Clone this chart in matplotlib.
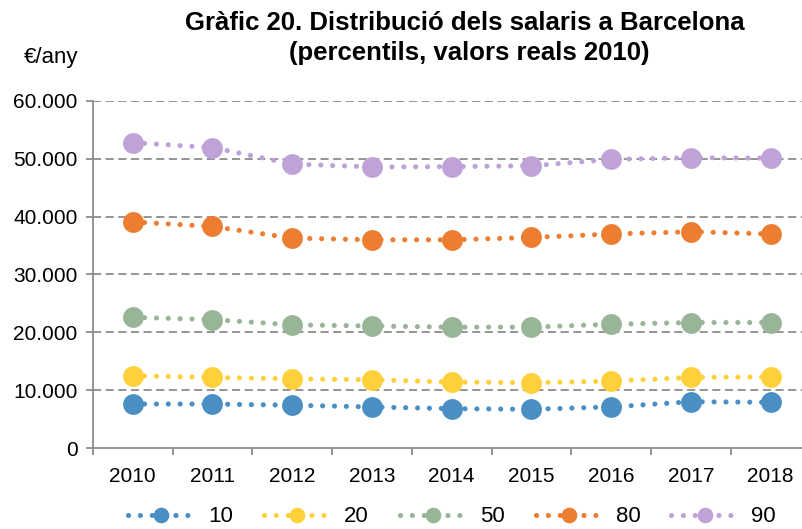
import numpy as np
import matplotlib
matplotlib.use("Agg")
import matplotlib.pyplot as plt
from matplotlib.ticker import FuncFormatter

plt.rcParams['font.family'] = ['Liberation Sans', 'DejaVu Sans']

years = ["2010", "2011", "2012", "2013", "2014", "2015", "2016", "2017", "2018"]
p10 = [7600, 7600, 7400, 7100, 6800, 6700, 7100, 8000, 7900]
p20 = [12500, 12200, 11950, 11800, 11400, 11300, 11550, 12200, 12300]
p50 = [22600, 22200, 21300, 21100, 20900, 20900, 21400, 21700, 21700]
p80 = [39100, 38300, 36300, 36000, 36000, 36400, 37000, 37400, 37000]
p90 = [52800, 51950, 49100, 48600, 48650, 48800, 49900, 50200, 50100]

series_labels = ["10", "20", "50", "80", "90"]
series_values = [p10, p20, p50, p80, p90]
series_colors = ["#4A8FC4", "#FFD03A", "#98B697", "#ED7D31", "#BFA3D8"]

fig = plt.figure(figsize=(8.03, 5.29), dpi=100)
ax = fig.add_axes([92.8 / 803, 1 - 448 / 529, (810.6 - 92.8) / 803, (448 - 101) / 529])

x = np.arange(len(years))
for vals, lab, col in zip(series_values, series_labels, series_colors):
    ax.plot(x, vals, color=col, lw=3.7, linestyle=(0, (0.01, 2.3)),
            dash_capstyle="round", marker="o", markersize=15,
            markeredgewidth=0, label=lab, zorder=3)

ax.set_xlim(-0.5, len(years) - 0.5)
ax.set_ylim(0, 60000)
ax.set_yticks(np.arange(0, 60001, 10000))
ax.yaxis.set_major_formatter(FuncFormatter(lambda v, p: f"{int(v):,}".replace(",", ".")))
ax.set_xticks(x)
ax.set_xticklabels(years)
ax.set_xticks(np.arange(-0.5, len(years)), minor=True)

grey = "#8C8C8C"
for s in ["top", "right"]:
    ax.spines[s].set_visible(False)
for s in ["left", "bottom"]:
    ax.spines[s].set_color(grey)
    ax.spines[s].set_linewidth(1.3)

ax.tick_params(axis="x", which="major", length=0, labelsize=15, pad=14)
ax.tick_params(axis="x", which="minor", length=5, width=1.3, color=grey, direction="out")
ax.tick_params(axis="y", length=5, width=1.3, color=grey, labelsize=15, pad=6)

for v in np.arange(10000, 60001, 10000):
    ax.axhline(v, color=grey, lw=1.3, linestyle=(0, (4.5, 2.5)), zorder=1)

fig.text(465 / 803, 1 - 23 / 529, "Gràfic 20. Distribució dels salaris a Barcelona",
         ha="center", va="center", fontsize=18.5, fontweight="bold")
fig.text(469 / 803, 1 - 53 / 529, "(percentils, valors reals 2010)",
         ha="center", va="center", fontsize=18.5, fontweight="bold")
fig.text(24 / 803, 1 - 58 / 529, "€/any", ha="left", va="center", fontsize=16)

fig.legend(loc="center", bbox_to_anchor=(452 / 803, 1 - 517 / 529), ncol=5,
           frameon=False, fontsize=16, handlelength=3.0, columnspacing=1.4,
           handletextpad=0.6, numpoints=1, markerscale=0.75)

fig.savefig("out.png", dpi=100)
